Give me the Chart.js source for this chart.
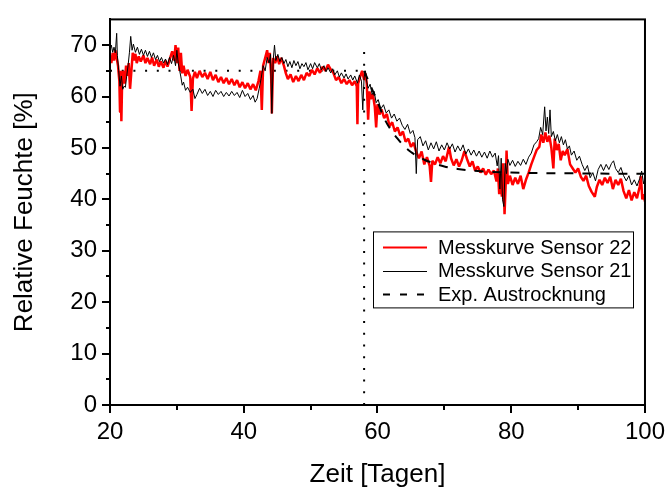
<!DOCTYPE html>
<html><head><meta charset="utf-8">
<script src="https://cdn.jsdelivr.net/npm/chart.js@4"></script>
<style>html,body{margin:0;padding:0;background:#fff}</style>
</head><body>
<canvas id="c" width="670" height="490"></canvas>
<script>
// ---------- data ----------
const xTicks = [20, 40, 60, 80, 100];
const yTicks = [0, 10, 20, 30, 40, 50, 60, 70];
const seriesLabels = ['Messkurve Sensor 22', 'Messkurve Sensor 21', 'Exp. Austrocknung'];

const daysS22 = [20.0,20.2,20.4,20.6,20.8,21.0,21.2,21.4,21.5,21.6,21.7,21.8,22.0,22.2,22.4,22.6,22.8,23.0,23.2,23.4,23.6,23.8,24.0,24.3,24.6,25.0,25.3,25.6,26.0,26.3,26.6,27.0,27.3,27.6,28.0,28.3,28.6,29.0,29.3,29.6,29.8,30.0,30.2,30.4,30.6,30.8,31.0,31.3,31.6,32.0,32.2,32.4,32.7,33.0,33.4,33.8,34.2,34.6,35.0,35.4,35.8,36.2,36.6,37.0,37.4,37.8,38.2,38.6,39.0,39.4,39.8,40.2,40.6,41.0,41.4,41.8,42.2,42.5,42.7,42.9,43.2,43.5,43.7,43.9,44.1,44.2,44.4,44.7,45.0,45.3,45.6,46.0,46.3,46.6,47.0,47.4,47.8,48.2,48.6,49.0,49.4,49.8,50.2,50.6,51.0,51.4,51.8,52.2,52.6,53.0,53.4,53.8,54.2,54.6,55.0,55.4,55.8,56.2,56.6,56.9,57.0,57.1,57.4,57.7,58.0,58.2,58.4,58.6,58.8,59.0,59.3,59.6,59.8,60.0,60.3,60.6,61.0,61.4,61.8,62.2,62.6,63.0,63.4,63.8,64.2,64.6,65.0,65.4,65.8,66.2,66.6,67.0,67.4,67.8,68.0,68.2,68.6,69.0,69.4,69.8,70.2,70.7,71.0,71.4,71.8,72.2,72.6,73.0,73.4,73.8,74.2,74.6,75.0,75.4,75.8,76.2,76.6,77.0,77.4,77.8,78.0,78.2,78.4,78.6,78.8,79.0,79.2,79.3,79.5,79.8,80.2,80.6,81.0,81.4,81.8,82.2,82.6,83.0,83.4,83.8,84.2,84.5,84.8,85.1,85.4,85.7,86.0,86.3,86.5,86.8,87.1,87.4,87.7,88.0,88.4,88.8,89.2,89.6,90.0,90.4,90.8,91.2,91.6,92.0,92.5,92.8,93.2,93.6,94.0,94.4,94.8,95.2,95.6,96.0,96.4,96.8,97.2,97.6,98.0,98.4,98.8,99.2,99.4,99.6,99.8,100.0];
const humS22 = [68,66.5,68.5,67,69,67.5,66,63,57,65,55.2,62,65,62.5,66,64,66.5,61.5,65,68.5,67,68.3,66.5,67.8,66.8,68,66.5,67.5,66.3,67.6,66,67.2,65.8,66.8,65.6,67,65.8,67.5,68.8,67,70,66.5,69.5,65,68.5,64.5,66,64,65.2,63.8,57.2,63.5,64.8,63.6,65,63.8,64.6,63.4,64.8,63.2,64.2,62.8,63.8,62.6,63.6,62.4,63.4,62.2,63.2,61.8,62.8,61.6,62.6,61.4,62.4,61.2,63,65,57.4,66,67.5,69,66.5,68.5,64,56.7,67.5,66.5,67.8,66.3,67.5,66,64.5,63.4,64.3,62.8,64,63,64.2,63.2,64.6,64,65.2,64.3,65.5,64.6,65.8,65,66.2,65.3,64.6,63.2,63.8,62.6,63.4,62.4,63.2,62.2,63,62,54.6,62.5,63.8,65,63.2,64.5,62.5,55.5,61,59.5,60.5,58,54,58.5,56.5,57.5,55.8,56.6,54.2,55,53.2,54,52.4,53.2,51.2,51.8,50.2,51,49.2,48,49.3,46.8,48.2,46.5,43.4,47.5,46.8,48.2,47,48.4,47.4,50.2,48,46.6,47.8,46.4,47.6,49.4,47.8,46.4,47.4,45.6,46.4,45.2,46,44.8,45.8,44.9,45.6,43.5,46,41,45,40.5,47,37.1,44,49.5,43,44.6,42.8,44.2,43,44.6,42,43.8,45.2,46.8,48.2,49.6,50.2,52.6,51,53,51.2,52.4,50,46,51.8,49.6,50.8,47.6,49.4,48.6,49.8,46.8,46,45.2,46,44.4,43.6,44.6,42.6,41.5,40.5,42.4,43.8,42.8,44.2,43.2,44.4,42,43.8,42.8,44,41.6,40.2,41.8,39.8,41.4,40.2,42.4,44.5,40,41,39.6];

const daysS21 = [20.0,20.2,20.4,20.6,20.8,21.0,21.1,21.3,21.5,21.7,21.9,22.1,22.3,22.5,22.7,22.9,23.1,23.3,23.5,23.8,24.1,24.4,24.7,25.0,25.3,25.6,25.9,26.2,26.5,26.8,27.1,27.4,27.7,28.0,28.3,28.6,28.9,29.2,29.5,29.8,30.0,30.2,30.4,30.6,30.8,31.0,31.3,31.6,32.0,32.4,32.7,33.0,33.4,33.8,34.2,34.6,35.0,35.4,35.8,36.2,36.6,37.0,37.4,37.8,38.2,38.6,39.0,39.4,39.8,40.2,40.6,41.0,41.4,41.7,42.0,42.3,42.6,42.9,43.2,43.5,43.8,44.0,44.2,44.4,44.6,44.8,45.1,45.4,45.7,46.0,46.3,46.6,46.9,47.2,47.5,47.8,48.1,48.4,48.7,49.0,49.3,49.6,50.0,50.3,50.6,51.0,51.3,51.6,52.0,52.3,52.6,53.0,53.3,53.6,54.0,54.3,54.6,55.0,55.3,55.6,56.0,56.3,56.6,57.0,57.3,57.6,57.8,58.0,58.2,58.4,58.6,58.9,59.2,59.5,59.8,60.1,60.5,60.9,61.3,61.7,62.1,62.5,62.9,63.3,63.7,64.1,64.5,64.9,65.3,65.6,65.8,66.0,66.4,66.8,67.2,67.6,68.0,68.4,68.8,69.2,69.6,70.0,70.4,70.8,71.2,71.6,72.0,72.4,72.8,73.2,73.6,74.0,74.4,74.8,75.2,75.6,76.0,76.4,76.8,77.2,77.6,77.9,78.1,78.3,78.5,78.7,78.9,79.1,79.3,79.5,79.8,80.2,80.6,81.0,81.4,81.8,82.2,82.6,83.0,83.4,83.8,84.1,84.4,84.7,85.0,85.2,85.4,85.6,85.8,86.0,86.3,86.6,86.9,87.2,87.5,87.8,88.1,88.4,88.7,89.0,89.4,89.8,90.2,90.6,91.0,91.4,91.8,92.2,92.6,93.0,93.4,93.8,94.2,94.6,95.0,95.3,95.6,96.0,96.4,96.8,97.2,97.6,98.0,98.4,98.8,99.2,99.5,99.8,100.0];
const humS21 = [69,70,68.6,69.6,68.5,72.3,68,65,62,64,61.4,62,61.8,64,66,68.5,71.7,69,70.2,68.6,69.6,68.2,69.2,68,69,67.8,68.8,67.6,68.5,67.2,68,66.8,67.6,66.5,67.3,66.2,67.6,66.4,68,66,69,66.5,65.2,63.8,62.2,62.8,61.2,61.8,60.8,61.4,59.6,60.4,61.6,60.6,61.4,60.2,61,60,61.2,60.4,61,60,60.8,60.1,61,60.2,60.8,59.8,61.2,60,60.6,59.4,60.2,58.9,59.6,61.5,63.5,66,65,67.6,66.5,68.2,56.7,67,70,67,68.2,66.8,67.6,66.4,67.2,65.8,66.8,65.6,67,66,66.8,65.4,66.4,65.8,66.6,65.2,66.4,65.4,66.6,65.6,66.4,65.2,66,64.8,65.6,64.6,65.4,64.2,65,63.8,64.6,63.6,64.4,63.4,64.2,63.2,64,62.6,64.2,63,57.4,63.8,65,62.8,61.6,62.4,60.4,61,58.8,59.4,57.6,58.4,56.8,57.4,55.8,56.6,55.2,55.8,54.4,53.6,54.6,52.8,53.4,52,45,51.6,52.2,50.4,51.4,49.6,51,49.8,51.2,49.4,50.6,49.6,51,49.8,50.8,49.2,50.4,49.4,50.6,48.8,49.8,48.6,49.6,48.4,49.4,48.2,49.2,48,49.4,48.2,49,46.5,48.5,42,48,39.9,38.6,47,45,47.8,46.6,47.6,46.4,47.4,46.6,47.8,46.8,48.2,49,50.6,51.2,51.8,54,52.6,58,53.3,56,52.8,57.4,52.2,53.2,51.4,52.6,51,52.2,50.6,51.6,49.8,50.4,48.6,49.4,47.6,48.4,46.8,45.6,46.6,44.2,45.2,43.6,45.8,46.8,45.6,46.8,45.8,47,47.5,46,45.2,46.2,44.6,43.6,44.6,42.8,43.8,42.6,44,45.5,43,44];

const daysExp = [58,59,60,61,62,63,64,65,66,67,68,70,72,75,80,85,90,95,100];
const humExp  = [65,62,59,55.8,53.5,51.8,50.3,49.2,48.4,47.7,47.2,46.4,45.9,45.5,45.2,45.1,45.05,45,45];

const refStartDay = 58;        // vertical dotted marker
const refLevelDays = [20, 58]; // horizontal dotted marker
const refLevel = 65;
const refTopHum = 69;

const toXY = (xs, ys) => xs.map((x, i) => ({x: x, y: ys[i]}));

const FONT = '"Liberation Sans", Arial, sans-serif';

const frameAndLegend = {
  id: 'frameAndLegend',
  afterDraw(chart) {
    const ctx = chart.ctx, ca = chart.chartArea;
    const xs = chart.scales.x, ys = chart.scales.y;
    ctx.save();
    ctx.strokeStyle = '#000';
    ctx.lineWidth = 2;
    ctx.strokeRect(ca.left, ca.top, ca.right - ca.left, ca.bottom - ca.top);
    // minor ticks
    ctx.beginPath();
    for (let v = 5; v < 75; v += 10) {
      const py = Math.round(ys.getPixelForValue(v));
      ctx.moveTo(ca.left - 4, py); ctx.lineTo(ca.left, py);
    }
    for (let v = 30; v < 100; v += 20) {
      const px = Math.round(xs.getPixelForValue(v));
      ctx.moveTo(px, ca.bottom); ctx.lineTo(px, ca.bottom + 5);
    }
    ctx.stroke();
    // legend
    const lx = ca.left + 263, ly = ca.top + 212, lw = 260, lh = 76;
    ctx.fillStyle = '#fff';
    ctx.fillRect(lx, ly, lw, lh);
    ctx.lineWidth = 1;
    ctx.strokeStyle = '#000';
    ctx.strokeRect(lx + 0.5, ly + 0.5, lw, lh);
    const ds = chart.data.datasets;
    ctx.font = '20px ' + FONT;
    ctx.textBaseline = 'middle';
    ctx.textAlign = 'left';
    for (let i = 0; i < 3; i++) {
      const d = ds[i];
      const ry = ly + 16 + i * 23.5;
      ctx.beginPath();
      ctx.strokeStyle = d.borderColor;
      ctx.lineWidth = Math.min(d.borderWidth, 2);
      ctx.setLineDash(i === 2 ? [7, 10] : []);
      ctx.moveTo(lx + 10, Math.round(ry) + 0.5);
      ctx.lineTo(lx + 54, Math.round(ry) + 0.5);
      ctx.stroke();
      ctx.setLineDash([]);
      ctx.fillStyle = '#000';
      ctx.fillText(d.label, lx + 65, ry + 1);
    }
    ctx.restore();
  }
};

new Chart(document.getElementById('c'), {
  type: 'line',
  data: {
    datasets: [
      {label: seriesLabels[0], data: toXY(daysS22, humS22), borderColor: '#ff0000', borderWidth: 2.5, pointRadius: 0, borderJoinStyle: 'bevel', order: 2},
      {label: seriesLabels[1], data: toXY(daysS21, humS21), borderColor: '#000000', borderWidth: 1, pointRadius: 0, order: 1},
      {label: seriesLabels[2], data: toXY(daysExp, humExp), borderColor: '#000000', borderWidth: 2, borderDash: [9, 9], pointRadius: 0, cubicInterpolationMode: 'monotone', order: 0},
      {label: 'v', data: [{x: refStartDay, y: 0}, {x: refStartDay, y: refTopHum}], borderColor: '#000', borderWidth: 2, borderDash: [2, 9.7], pointRadius: 0, order: 3},
      {label: 'h', data: [{x: refLevelDays[0], y: refLevel}, {x: refLevelDays[1], y: refLevel}], borderColor: '#000', borderWidth: 2, borderDash: [2, 9.7], pointRadius: 0, order: 3}
    ]
  },
  options: {
    responsive: false,
    devicePixelRatio: 1,
    animation: false,
    layout: {padding: {top: 11, right: 24, left: 0, bottom: 0}},
    plugins: {legend: {display: false}, tooltip: {enabled: false}},
    scales: {
      x: {
        type: 'linear', min: 20, max: 100,
        afterBuildTicks: s => { s.ticks = xTicks.map(v => ({value: v})); },
        afterFit: s => { s.height = 85; },
        ticks: {color: '#000', font: {family: FONT, size: 24}, padding: 5, maxRotation: 0},
        grid: {drawOnChartArea: false, drawTicks: true, tickLength: 8, color: '#000', lineWidth: 2},
        border: {display: true, color: '#000', width: 2},
        title: {display: true, text: 'Zeit [Tagen]', color: '#000', font: {family: FONT, size: 26}, padding: {top: 0, bottom: 0}}
      },
      y: {
        type: 'linear', min: 0, max: 75,
        afterBuildTicks: s => { s.ticks = yTicks.map(v => ({value: v})); },
        afterFit: s => { s.width = 110; },
        ticks: {color: '#000', font: {family: FONT, size: 24}, padding: 5},
        grid: {drawOnChartArea: false, drawTicks: true, tickLength: 8, color: '#000', lineWidth: 2},
        border: {display: true, color: '#000', width: 2},
        title: {display: true, text: 'Relative Feuchte [%]', color: '#000', font: {family: FONT, size: 26}, padding: {top: 9, bottom: 0}}
      }
    }
  },
  plugins: [frameAndLegend]
});
</script>
</body></html>
